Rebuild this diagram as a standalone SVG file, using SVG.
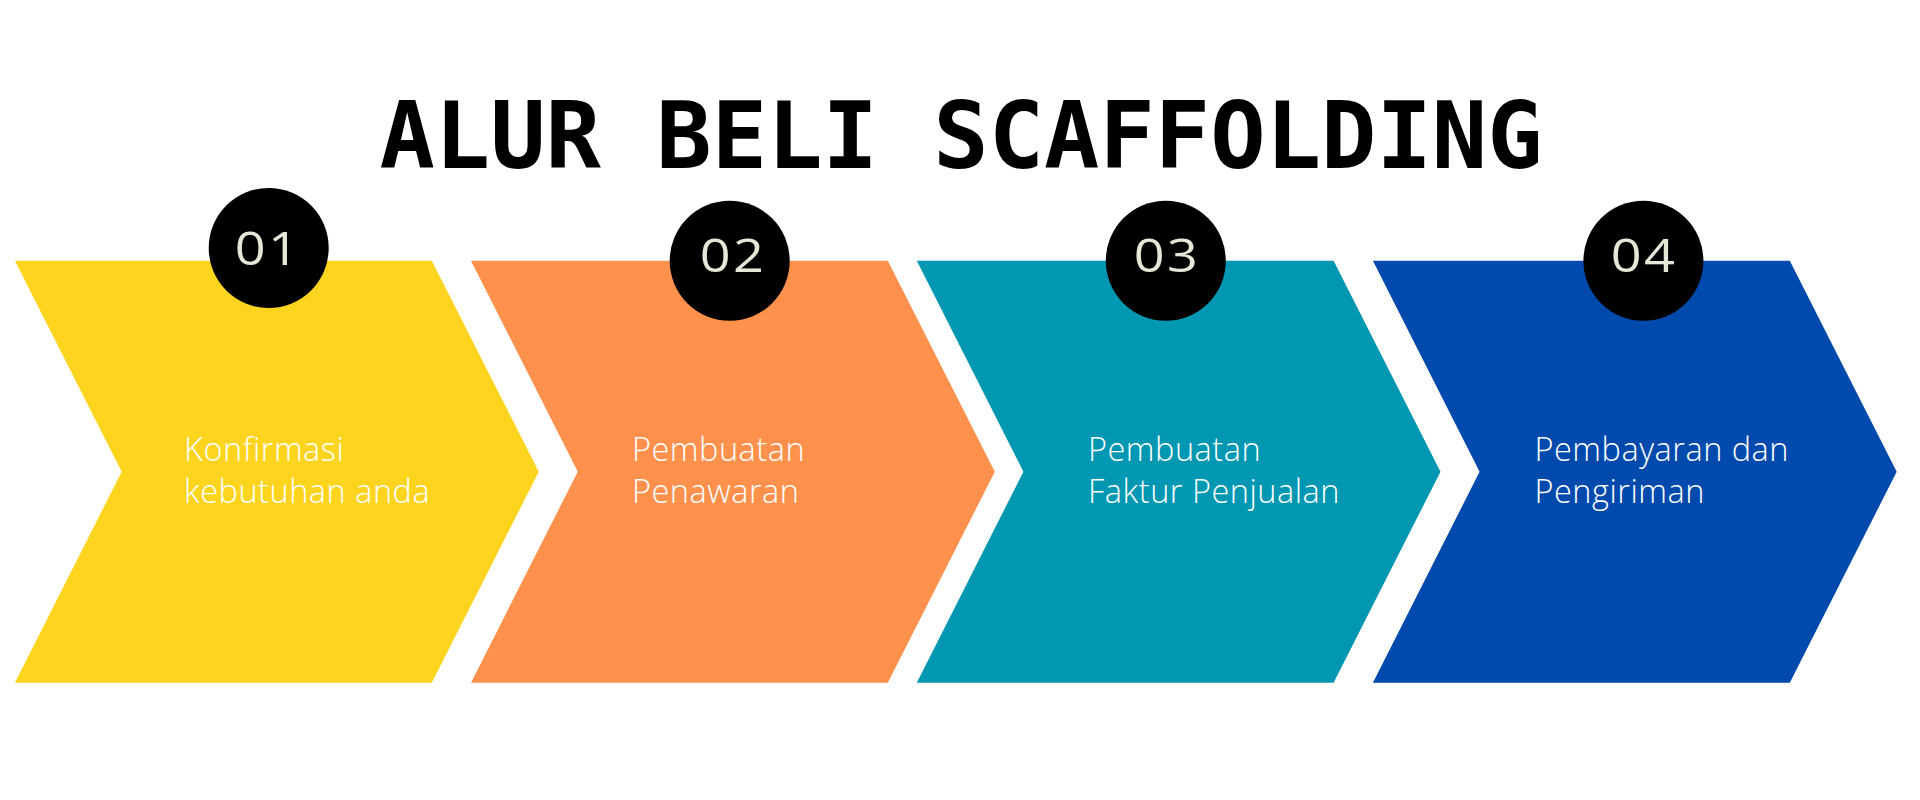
<svg xmlns="http://www.w3.org/2000/svg" width="1920" height="800" viewBox="0 0 1920 800">
  <style>
    .title { font-family: "DejaVu Sans Mono", "Liberation Mono", monospace; font-weight: bold; font-size: 92px; fill: #000000; }
    .num { font-family: "Open Sans", "Noto Sans", sans-serif; font-weight: 400; font-size: 45px; fill: #E6E7D6; letter-spacing: 2px; text-anchor: middle; }
    .body { font-family: "Open Sans", "Noto Sans", sans-serif; font-weight: 350; font-size: 32.5px; letter-spacing: 0.5px; fill: #FFFFFF; }
    .badge { fill: #000000; }
  </style>
  <rect width="1920" height="800" fill="#FFFFFF"/>
  <text class="title" x="961" y="168" text-anchor="middle">ALUR BELI SCAFFOLDING</text>

  <g id="step1">
    <polygon points="14.9,260.7 431.8,260.7 538.8,471.7 431.8,682.7 14.9,682.7 121.7,471.7" fill="#FED41E"/>
    <circle class="badge" cx="268.7" cy="248" r="60"/>
    <text class="num" transform="translate(268,265) scale(1.2,1)" x="0" y="0">01</text>
    <text class="body"><tspan x="184" y="461">Konfirmasi</tspan><tspan x="184" y="503">kebutuhan anda</tspan></text>
  </g>

  <g id="step2">
    <polygon points="471,260.7 887.8,260.7 994.8,471.7 887.8,682.7 471,682.7 577.8,471.7" fill="#FF914D"/>
    <circle class="badge" cx="729.7" cy="260.8" r="60"/>
    <text class="num" transform="translate(733,272) scale(1.2,1)" x="0" y="0">02</text>
    <text class="body"><tspan x="632" y="461">Pembuatan</tspan><tspan x="632" y="503">Penawaran</tspan></text>
  </g>

  <g id="step3">
    <polygon points="916.8,260.7 1333.6,260.7 1440.5,471.7 1333.6,682.7 916.8,682.7 1023.4,471.7" fill="#0097B2"/>
    <circle class="badge" cx="1165.8" cy="260.8" r="60"/>
    <text class="num" transform="translate(1167,272) scale(1.2,1)" x="0" y="0">03</text>
    <text class="body"><tspan x="1088" y="461">Pembuatan</tspan><tspan x="1088" y="503">Faktur Penjualan</tspan></text>
  </g>

  <g id="step4">
    <polygon points="1372.9,260.7 1789.8,260.7 1896.7,471.7 1789.8,682.7 1372.9,682.7 1479.6,471.7" fill="#004AAD"/>
    <circle class="badge" cx="1643.4" cy="260.8" r="60"/>
    <text class="num" transform="translate(1644,272) scale(1.2,1)" x="0" y="0">04</text>
    <text class="body"><tspan x="1534.5" y="461">Pembayaran dan</tspan><tspan x="1534.5" y="503">Pengiriman</tspan></text>
  </g>

  <g id="connectors"/>
</svg>
